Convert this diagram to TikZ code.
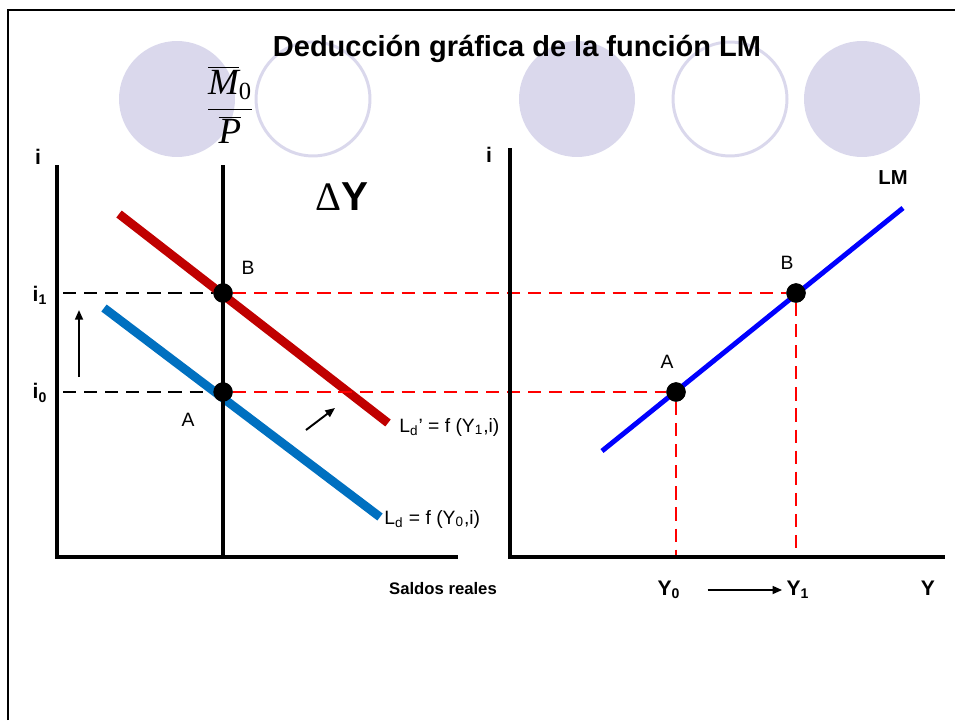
\documentclass[tikz,border=0pt]{standalone}
\usepackage{fontspec}
\setmainfont{Liberation Sans}
\newfontfamily\timesfont{Liberation Serif}
\usepackage{tikz}
\usetikzlibrary{arrows.meta}
\usetikzlibrary{positioning}

\definecolor{lavender}{RGB}{218,216,236}
\definecolor{ldred}{RGB}{192,0,0}
\definecolor{ldblue}{RGB}{0,112,192}

\begin{document}
\begin{tikzpicture}[
    x=0.02cm, y=-0.02cm,
    >={Triangle[length=5.5pt,width=4.5pt]},
    every node/.style={font=\fontsize{11}{13}\selectfont},
    axis/.style={line width=2.2pt},
    guide/.style={dash pattern=on 7.5pt off 4.5pt, line width=1.6pt},
    dot/.style={circle, fill=black, inner sep=0pt, minimum size=11pt},
    disc/.style={fill=lavender},
    ring/.style={draw=lavender, line width=1.7pt},
    axislabel/.style={font=\fontsize{12}{14}\selectfont\bfseries},
    movearrow/.style={->, line width=1.1pt}
]
\useasboundingbox (0,0) rectangle (955,720);

% Background
\draw[line width=1.7pt] (8,720) -- (8,10) -- (955,10);
\fill[disc] (177,99) circle (1.16cm);
\draw[ring] (313,99) circle (1.14cm);
\fill[disc] (577,99) circle (1.16cm);
\draw[ring] (730,99) circle (1.14cm);
\fill[disc] (862,99) circle (1.16cm);

% Nodes
\node[font=\fontsize{16.5}{19}\selectfont\bfseries] (title) at (517,49) {Deducción gráfica de la función LM};
\node[font=\fontsize{21}{24}\selectfont] (supply) at (230,105)
  {$\displaystyle\frac{\overline{\mbox{\timesfont\itshape M}}_{\mbox{\timesfont\fontsize{14}{16}\selectfont 0}}}{\overline{\mbox{\timesfont\itshape P}}}$};
\node[font=\fontsize{23}{26}\selectfont\bfseries] (deltaY) at (342,197) {{\timesfont\mdseries Δ}Y};

\coordinate (lTop) at (57,165);
\coordinate (lOrigin) at (57,557);
\coordinate (lEnd) at (458,557);
\coordinate (sTop) at (223,165);
\coordinate (sBottom) at (223,557);
\coordinate (rTop) at (510,148);
\coordinate (rOrigin) at (510,557);
\coordinate (rEnd) at (945,557);

\node[axislabel] (iLeft) at (38,157) {i};
\node[axislabel] (iOne) at (40,295) {i\textsubscript{1}};
\node[axislabel] (iZero) at (40,393) {i\textsubscript{0}};
\node[axislabel] (iRight) at (489,155) {i};
\coordinate (iOneEnd) at (63,293);
\coordinate (iZeroEnd) at (63,392);

\coordinate (ldpStart) at (119,214);
\coordinate (ldpEnd) at (388,423);
\coordinate (ldStart) at (104,308);
\coordinate (ldEnd) at (380,517);
\coordinate (lmStart) at (602,451);
\coordinate (lmEnd) at (903,208);

\node[dot] (dotB) at (223,293) {};
\node[dot] (dotA) at (223,392) {};
\node[dot] (lmB) at (796,293) {};
\node[dot] (lmA) at (676,392) {};
\coordinate (yOneFoot) at (796,557);
\coordinate (yZeroFoot) at (676,557);

\node (labB) at (248,268) {B};
\node (labA) at (188,420) {A};
\node (labLmB) at (787,263) {B};
\node (labLmA) at (667,362) {A};
\node[anchor=west, inner sep=0pt] (ldpLabel) at (399,427) {L\textsubscript{d}’ = f (Y\textsubscript{1},i)};
\node[anchor=west, inner sep=0pt] (ldLabel) at (384,519) {L\textsubscript{d} = f (Y\textsubscript{0},i)};
\node[font=\fontsize{9.5}{11}\selectfont\bfseries] (saldos) at (443,589) {Saldos reales};
\node[font=\fontsize{11.5}{13}\selectfont\bfseries] (lmLabel) at (893,178) {LM};
\node[axislabel] (yZero) at (669,590) {Y\textsubscript{0}};
\node[axislabel] (yOne) at (798,590) {Y\textsubscript{1}};
\node[axislabel] (yLabel) at (928,588) {Y};

\coordinate (upFrom) at (79,377);
\coordinate (upTo) at (79,310);
\coordinate (moveFrom) at (306,430);
\coordinate (moveTo) at (335,408);

% Edges
\draw[guide] (iOneEnd) -- (dotB);
\draw[guide] (iZeroEnd) -- (dotA);
\draw[line width=5pt, ldred] (ldpStart) -- (ldpEnd);
\draw[line width=5pt, ldblue] (ldStart) -- (ldEnd);
\draw[line width=2.8pt, blue] (lmStart) -- (lmEnd);
\draw[guide, red] (dotB) -- (lmB);
\draw[guide, red] (dotA) -- (lmA);
\draw[guide, red] (lmB) -- (yOneFoot);
\draw[guide, red] (lmA) -- (yZeroFoot);
\draw[axis] (lTop) -- (lOrigin) -- (lEnd);
\draw[axis] (sTop) -- (sBottom);
\draw[axis] (rTop) -- (rOrigin) -- (rEnd);
\node[dot] at (dotB) {};
\node[dot] at (dotA) {};
\node[dot] at (lmB) {};
\node[dot] at (lmA) {};
\draw[movearrow] (upFrom) -- (upTo);
\draw[movearrow] (moveFrom) -- (moveTo);
\draw[movearrow, shorten <=12pt, shorten >=-1pt] (yZero) -- (yOne);

\end{tikzpicture}
\end{document}
